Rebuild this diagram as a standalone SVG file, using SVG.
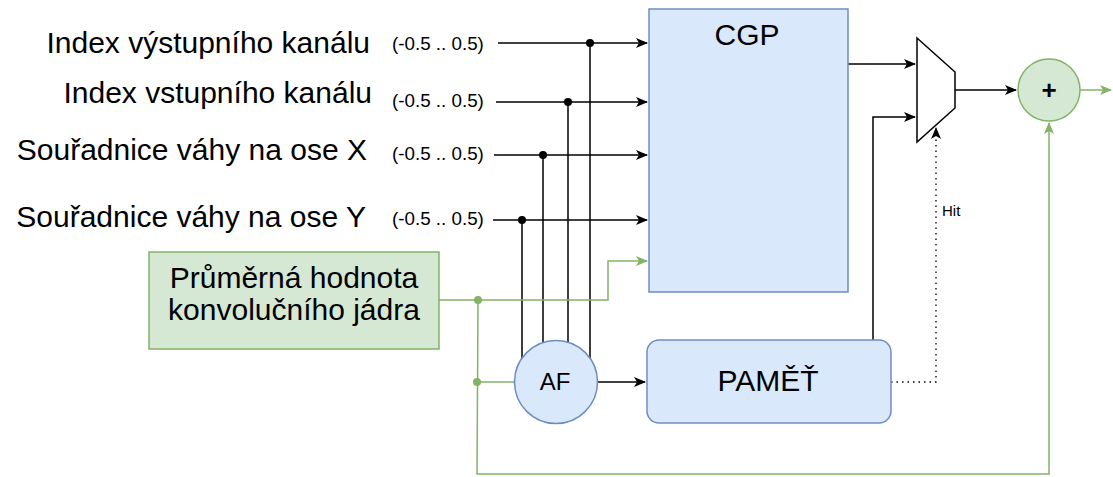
<svg xmlns="http://www.w3.org/2000/svg" width="1113" height="477" viewBox="0 0 1113 477">
<defs>
<style>
.t{font-family:"Liberation Sans",Arial,sans-serif;fill:#000}
.big{font-size:30px}
.rng{font-size:18.8px}
.ln{fill:none;stroke:#000;stroke-width:1.5}
.gl{fill:none;stroke:#82b366;stroke-width:1.5}
.blue{fill:#dae8fc;stroke:#6c8ebf;stroke-width:1.5}
.green{fill:#d5e8d4;stroke:#82b366;stroke-width:1.5}
</style>
<marker id="ab" viewBox="0 0 12 10" refX="11" refY="5" markerWidth="12" markerHeight="10" markerUnits="userSpaceOnUse" orient="auto">
<path d="M0,0 L12,5 L0,10 L3,5 Z" fill="#000"/>
</marker>
<marker id="ag" viewBox="0 0 12 10" refX="11" refY="5" markerWidth="12" markerHeight="10" markerUnits="userSpaceOnUse" orient="auto">
<path d="M0,0 L12,5 L0,10 L3,5 Z" fill="#82b366"/>
</marker>
</defs>
<rect width="1113" height="477" fill="#fff"/>

<g id="labels">
<text class="t big" x="370" y="53" text-anchor="end">Index výstupního kanálu</text>
<text class="t big" x="372" y="103" text-anchor="end">Index vstupního kanálu</text>
<text class="t big" x="367" y="160" text-anchor="end">Souřadnice váhy na ose X</text>
<text class="t big" x="366" y="227" text-anchor="end">Souřadnice váhy na ose Y</text>
<text class="t rng" x="392" y="50">(-0.5 .. 0.5)</text>
<text class="t rng" x="392" y="107">(-0.5 .. 0.5)</text>
<text class="t rng" x="392" y="160">(-0.5 .. 0.5)</text>
<text class="t rng" x="392" y="225">(-0.5 .. 0.5)</text>
<text class="t" x="942" y="216" font-size="15">Hit</text>
</g>

<g id="connectors">
<path class="ln" d="M498,43 H647" marker-end="url(#ab)"/>
<path class="ln" d="M496,102 H647" marker-end="url(#ab)"/>
<path class="ln" d="M494,155 H647" marker-end="url(#ab)"/>
<path class="ln" d="M493,220 H647" marker-end="url(#ab)"/>
<path class="ln" d="M590,43 V382 M568,102 V382 M543,155 V382 M522,220 V382"/>
<circle cx="590" cy="43" r="4"/>
<circle cx="568" cy="102" r="4"/>
<circle cx="543" cy="155" r="4"/>
<circle cx="522" cy="220" r="4"/>
<path class="gl" d="M439,300 H608 V261 H647" marker-end="url(#ag)"/>
<path class="gl" d="M478,300 L477,474 H1049 V123" marker-end="url(#ag)"/>
<path class="gl" d="M477,382 H515"/>
<circle cx="478" cy="300" r="4" fill="#82b366"/>
<circle cx="477" cy="382" r="4" fill="#82b366"/>
<path class="ln" d="M597,382 H645" marker-end="url(#ab)"/>
<path class="ln" d="M848,64 H915" marker-end="url(#ab)"/>
<path class="ln" d="M873,340 V117 H915" marker-end="url(#ab)"/>
<path class="ln" d="M955,90 H1016" marker-end="url(#ab)"/>
<path class="gl" d="M1080,90 H1111" marker-end="url(#ag)"/>
<path fill="none" stroke="#000" stroke-width="1.3" stroke-dasharray="1.5 4" d="M891,382 H936 V128" marker-end="url(#ab)"/>
</g>

<g id="cgp">
<rect class="blue" x="649" y="9" width="199" height="283"/>
<text class="t big" x="747" y="45" text-anchor="middle">CGP</text>
</g>

<g id="avg">
<rect class="green" x="149" y="252" width="290" height="97"/>
<text class="t big" x="294" y="288" text-anchor="middle">Průměrná hodnota</text>
<text class="t big" x="294" y="320" text-anchor="middle">konvolučního jádra</text>
</g>

<g id="af">
<circle class="blue" cx="556" cy="382" r="41.5"/>
<text class="t" x="555" y="390" font-size="24" text-anchor="middle">AF</text>
</g>

<g id="pamet">
<rect class="blue" x="647" y="340" width="244" height="83" rx="12"/>
<text class="t big" x="768" y="391" text-anchor="middle">PAMĚŤ</text>
</g>

<g id="mux">
<path d="M917,38 L955,72 V108 L917,142 Z" fill="#fff" stroke="#000" stroke-width="1.5"/>
</g>

<g id="plus">
<circle class="green" cx="1049" cy="90" r="31"/>
<text class="t" x="1049" y="99" font-size="26" font-weight="bold" text-anchor="middle">+</text>
</g>
</svg>
